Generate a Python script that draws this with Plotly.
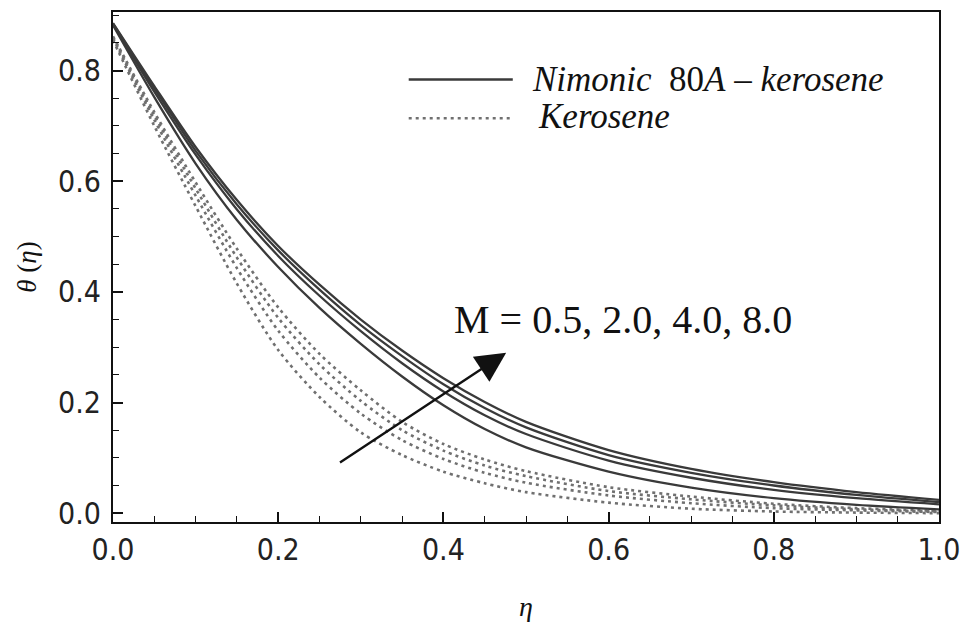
import plotly.graph_objects as go

# ---------------- data ----------------
eta = [0.0, 0.05, 0.1, 0.15, 0.2, 0.25, 0.3, 0.35, 0.4, 0.45, 0.5, 0.6, 0.7, 0.8, 0.9, 1.0]
M_values = ["0.5", "2.0", "4.0", "8.0"]

# Nimonic 80A - kerosene (solid lines)
nimonic_M05 = [0.882, 0.752, 0.632, 0.530, 0.445, 0.371, 0.306, 0.247, 0.195, 0.152, 0.119, 0.075, 0.046, 0.027, 0.015, 0.007]
nimonic_M20 = [0.884, 0.762, 0.648, 0.549, 0.465, 0.393, 0.329, 0.271, 0.220, 0.177, 0.143, 0.095, 0.064, 0.042, 0.027, 0.016]
nimonic_M40 = [0.885, 0.768, 0.655, 0.558, 0.475, 0.404, 0.340, 0.284, 0.233, 0.190, 0.155, 0.105, 0.073, 0.050, 0.033, 0.020]
nimonic_M80 = [0.886, 0.772, 0.662, 0.566, 0.483, 0.413, 0.350, 0.294, 0.244, 0.201, 0.165, 0.114, 0.080, 0.056, 0.038, 0.024]

# Kerosene (dotted lines)
kerosene_M05 = [0.855, 0.700, 0.555, 0.415, 0.295, 0.210, 0.146, 0.105, 0.075, 0.054, 0.038, 0.019, 0.008, 0.003, 0.001, 0.000]
kerosene_M20 = [0.858, 0.711, 0.574, 0.443, 0.330, 0.245, 0.180, 0.132, 0.098, 0.073, 0.055, 0.032, 0.018, 0.009, 0.005, 0.002]
kerosene_M40 = [0.860, 0.719, 0.587, 0.462, 0.353, 0.269, 0.203, 0.150, 0.113, 0.086, 0.067, 0.040, 0.025, 0.014, 0.007, 0.003]
kerosene_M80 = [0.862, 0.725, 0.598, 0.478, 0.372, 0.288, 0.222, 0.165, 0.125, 0.097, 0.076, 0.047, 0.030, 0.017, 0.009, 0.004]

nimonic = [nimonic_M05, nimonic_M20, nimonic_M40, nimonic_M80]
kerosene = [kerosene_M05, kerosene_M20, kerosene_M40, kerosene_M80]

x_ticks = [0.0, 0.2, 0.4, 0.6, 0.8, 1.0]
y_ticks = [0.0, 0.2, 0.4, 0.6, 0.8]

# ---------------- figure ----------------
fig = go.Figure()

for m, ys in zip(M_values, kerosene):
    fig.add_trace(go.Scatter(
        x=eta, y=ys, mode="lines", name=f"Kerosene, M = {m}",
        line=dict(color="#707070", width=2.6, dash="3px,4px", shape="spline", smoothing=0.8),
        showlegend=False, hoverinfo="skip"))

for m, ys in zip(M_values, nimonic):
    fig.add_trace(go.Scatter(
        x=eta, y=ys, mode="lines", name=f"Nimonic 80A – kerosene, M = {m}",
        line=dict(color="#3a3a3a", width=2.3, shape="spline", smoothing=0.8),
        showlegend=False, hoverinfo="skip"))

serif = "Liberation Serif, Times New Roman, serif"
tickfont = dict(family="Liberation Sans Narrow, DejaVu Sans Condensed, Liberation Sans, sans-serif",
                size=30, color="#222")

# legend drawn manually (long sample lines as in the reference)
fig.add_shape(type="line", xref="x", yref="y", x0=0.358, x1=0.484, y0=0.784, y1=0.784,
              line=dict(color="#3a3a3a", width=2.4))
fig.add_shape(type="line", xref="x", yref="y", x0=0.358, x1=0.484, y0=0.714, y1=0.714,
              line=dict(color="#707070", width=2.6, dash="3px,4px"))
fig.add_annotation(x=0.505, y=0.784, xref="x", yref="y", xanchor="left", yanchor="middle",
                   text="<i>Nimonic</i>  80<i>A</i> – <i>kerosene</i>", showarrow=False,
                   font=dict(family=serif, size=35, color="#111"))
fig.add_annotation(x=0.512, y=0.717, xref="x", yref="y", xanchor="left", yanchor="middle",
                   text="<i>Kerosene</i>", showarrow=False,
                   font=dict(family=serif, size=35, color="#111"))

# M annotation and arrow
fig.add_annotation(x=0.410, y=0.350, xref="x", yref="y", xanchor="left", yanchor="middle",
                   text="M = 0.5, 2.0, 4.0, 8.0", showarrow=False,
                   font=dict(family=serif, size=40, color="#111"))
fig.add_annotation(x=0.476, y=0.290, ax=0.273, ay=0.090, xref="x", yref="y", axref="x", ayref="y",
                   text="", showarrow=True, arrowhead=2, arrowsize=2.5, arrowwidth=2.4,
                   arrowcolor="#111")

fig.update_layout(
    width=970, height=633,
    margin=dict(l=113, r=27, t=10, b=111),
    paper_bgcolor="white", plot_bgcolor="white",
    showlegend=False,
)

fig.update_xaxes(
    range=[0, 1], tickvals=x_ticks, ticktext=[f"{v:.1f}" for v in x_ticks],
    ticks="inside", ticklen=10, tickwidth=1.6, tickcolor="#111",
    minor=dict(dtick=0.05, ticks="inside", ticklen=6, tickwidth=1.4, tickcolor="#111", showgrid=False),
    showline=True, linewidth=2, linecolor="#111", mirror=True,
    showgrid=False, zeroline=False, tickfont=tickfont,
    title=dict(text="<i>η</i>", font=dict(family=serif, size=28, color="#111"), standoff=30),
)
fig.update_yaxes(
    range=[-0.016, 0.906], tickvals=y_ticks, ticktext=[f"{v:.1f}" for v in y_ticks],
    ticks="inside", ticklen=10, tickwidth=1.6, tickcolor="#111", ticklabelstandoff=4,
    minor=dict(dtick=0.05, ticks="inside", ticklen=6, tickwidth=1.4, tickcolor="#111", showgrid=False),
    showline=True, linewidth=2, linecolor="#111", mirror=True,
    showgrid=False, zeroline=False, tickfont=tickfont,
    title=dict(text="<i>θ</i> (<i>η</i>)", font=dict(family=serif, size=27, color="#111"), standoff=14),
)

fig.write_html("out.html", config={"displayModeBar": False},
               post_script="document.body.style.margin='0';")
